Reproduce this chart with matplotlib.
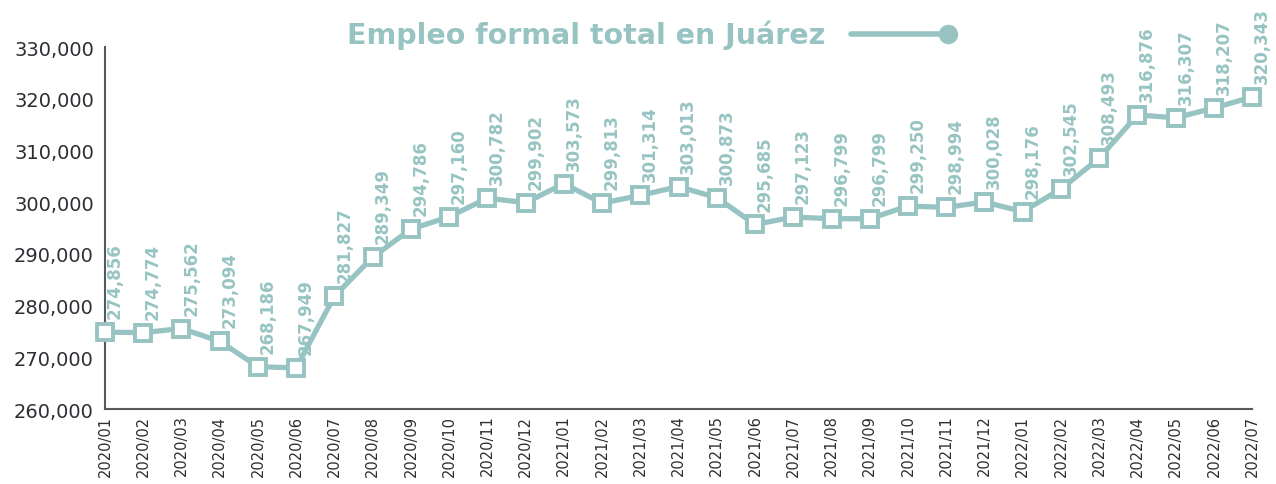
import matplotlib.pyplot as plt
from matplotlib.lines import Line2D
from matplotlib.ticker import FuncFormatter

meses = ['2020/01', '2020/02', '2020/03', '2020/04', '2020/05', '2020/06',
         '2020/07', '2020/08', '2020/09', '2020/10', '2020/11', '2020/12',
         '2021/01', '2021/02', '2021/03', '2021/04', '2021/05', '2021/06',
         '2021/07', '2021/08', '2021/09', '2021/10', '2021/11', '2021/12',
         '2022/01', '2022/02', '2022/03', '2022/04', '2022/05', '2022/06',
         '2022/07']
empleo = [274856, 274774, 275562, 273094, 268186, 267949,
          281827, 289349, 294786, 297160, 300782, 299902,
          303573, 299813, 301314, 303013, 300873, 295685,
          297123, 296799, 296799, 299250, 298994, 300028,
          298176, 302545, 308493, 316876, 316307, 318207,
          320343]
titulo = 'Empleo formal total en Juárez'

color = '#97c4c2'
gris = '#2b2f33'

plt.rcParams['font.family'] = ['DejaVu Sans']

fig = plt.figure(figsize=(12.76, 4.85), dpi=100)
ax = fig.add_axes([0.0823, 0.1546, 0.8990, 0.7464])

x = list(range(len(meses)))
ax.plot(x, empleo, color=color, lw=3.8, marker='s', markersize=12,
        markerfacecolor='white', markeredgecolor=color, markeredgewidth=2.8,
        solid_joinstyle='round', zorder=3, clip_on=False)

for xi, v in zip(x, empleo):
    ax.annotate(f'{v:,}', (xi, v), xytext=(7, 10), textcoords='offset points',
                rotation=90, ha='center', va='bottom', color=color,
                fontsize=12, fontweight='bold', annotation_clip=False)

ax.set_xlim(0, len(meses) - 1)
ax.set_ylim(260000, 330000)
ax.set_yticks(range(260000, 330001, 10000))
ax.yaxis.set_major_formatter(FuncFormatter(lambda v, p: f'{int(v):,}'))
ax.set_xticks(x)
ax.set_xticklabels(meses, rotation=90, fontsize=10.5, color=gris)
ax.tick_params(axis='y', labelsize=14, colors=gris, length=0, pad=8)
ax.tick_params(axis='x', length=0, pad=4)

for s in ['top', 'right']:
    ax.spines[s].set_visible(False)
for s in ['left', 'bottom']:
    ax.spines[s].set_color('#555a5e')
    ax.spines[s].set_linewidth(1.5)

# titulo con su marca de serie
fig.text(0.647, 0.928, titulo, ha='right', va='center', color=color,
         fontsize=20.5, fontweight='bold')
fig.add_artist(Line2D([0.667, 0.742], [0.928, 0.928], color=color, lw=4,
                      solid_capstyle='round', transform=fig.transFigure))
fig.add_artist(Line2D([0.743], [0.928], color=color, marker='o', markersize=13,
                      transform=fig.transFigure))

fig.savefig('out.png', dpi=100)
